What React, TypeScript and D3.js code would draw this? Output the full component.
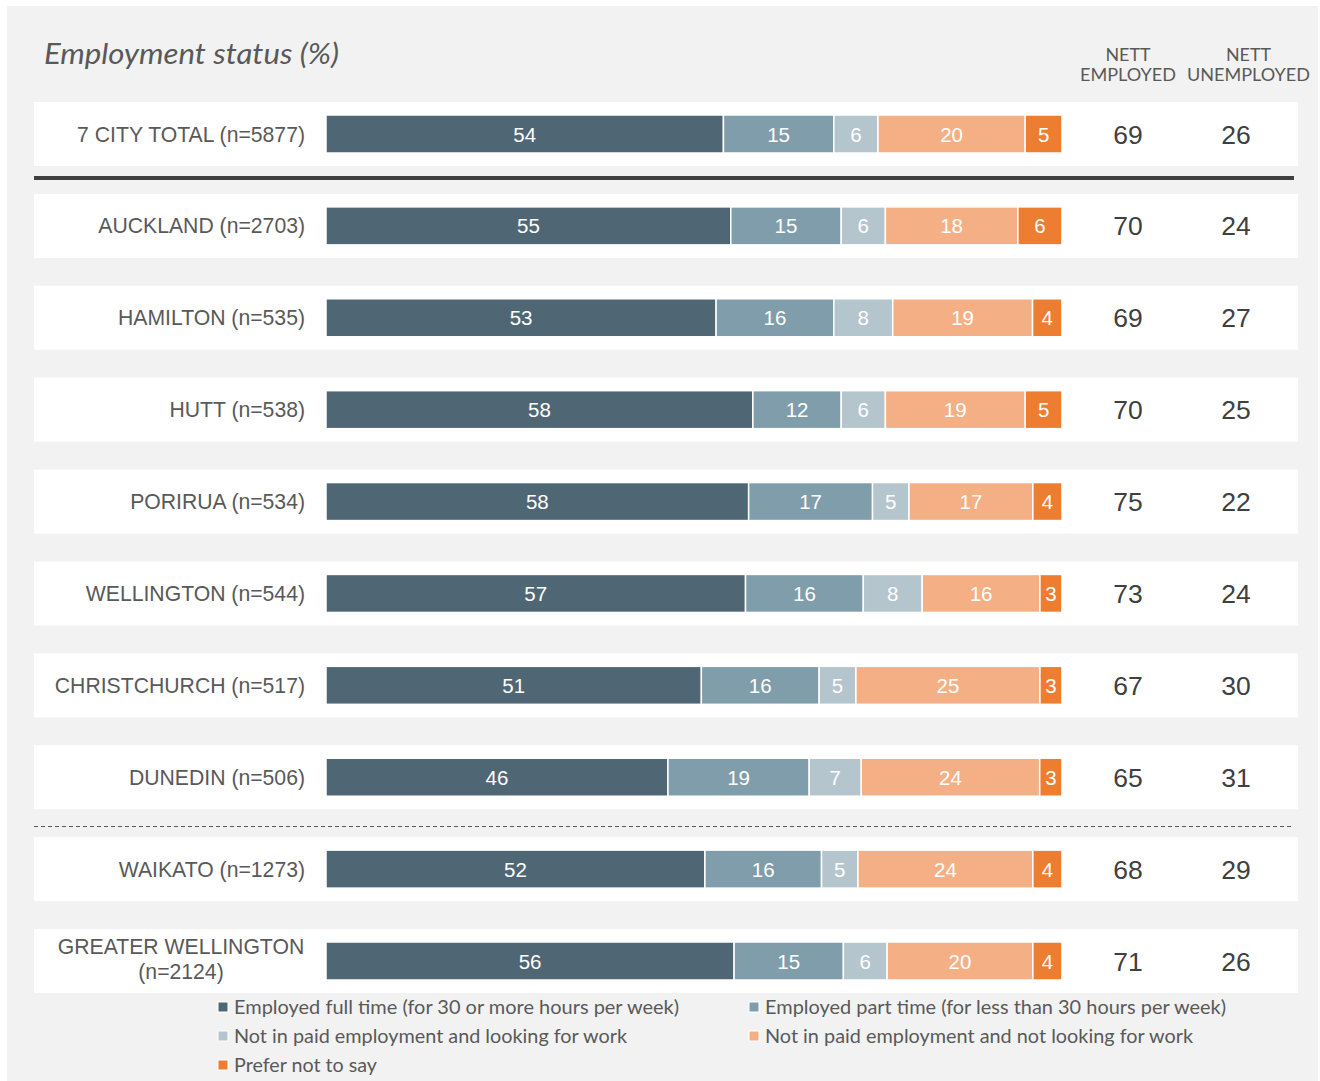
import React from "react";
import * as d3 from "d3";

const categories = [
  "7 CITY TOTAL (n=5877)",
  "AUCKLAND (n=2703)",
  "HAMILTON (n=535)",
  "HUTT (n=538)",
  "PORIRUA (n=534)",
  "WELLINGTON (n=544)",
  "CHRISTCHURCH (n=517)",
  "DUNEDIN (n=506)",
  "WAIKATO (n=1273)",
  "GREATER WELLINGTON (n=2124)",
];

const seriesNames = [
  "Employed full time (for 30 or more hours per week)",
  "Employed part time (for less than 30 hours per week)",
  "Not in paid employment and looking for work",
  "Not in paid employment and not looking for work",
  "Prefer not to say",
];

const fullTime = [54, 55, 53, 58, 58, 57, 51, 46, 52, 56];
const partTime = [15, 15, 16, 12, 17, 16, 16, 19, 16, 15];
const looking = [6, 6, 8, 6, 5, 8, 5, 7, 5, 6];
const notLooking = [20, 18, 19, 19, 17, 16, 25, 24, 24, 20];
const preferNot = [5, 6, 4, 5, 4, 3, 3, 3, 4, 4];

const nettEmployed = [69, 70, 69, 70, 75, 73, 67, 65, 68, 71];
const nettUnemployed = [26, 24, 27, 25, 22, 24, 30, 31, 29, 26];

const colors = ["#4f6774", "#809dab", "#b4c5ce", "#f4b084", "#ed7d31"];

const W = 1320;
const H = 1081;

export default function App() {
  const series = [fullTime, partTime, looking, notLooking, preferNot];
  const y = d3.scalePoint<string>().domain(categories).range([134, 961]);
  const barH = 38;
  const bandH = 64;
  const x0 = 326;
  const x1 = 1062;
  const labelFont = "'Liberation Sans', Arial, sans-serif";
  const calibri = "Lato, 'Open Sans', sans-serif";
  const legendWidths = [445, 461, 393, 428, 143];

  return (
    <svg
      width={W}
      height={H}
      style={{ position: "absolute", left: 0, top: 0 }}
      xmlns="http://www.w3.org/2000/svg"
    >
      <rect x={0} y={0} width={W} height={H} fill="#ffffff" />
      <rect x={7} y={6} width={1311} height={H - 6} fill="#f2f2f2" />
      <text
        x={44}
        y={64}
        fontFamily={calibri}
        fontStyle="italic"
        fontSize={29}
        fill="#595959"
        textLength={295}
        lengthAdjust="spacingAndGlyphs"
      >
        Employment status (%)
      </text>
      {[
        ["NETT", "EMPLOYED", 1128, 96],
        ["NETT", "UNEMPLOYED", 1248.5, 123],
      ].map(([a, b, cx, w]) => (
        <g key={String(b)} fontFamily={calibri} fontSize={16.5} fill="#595959" textAnchor="middle">
          <text x={cx as number} y={61} textLength={45} lengthAdjust="spacingAndGlyphs">{a}</text>
          <text x={cx as number} y={81} textLength={w as number} lengthAdjust="spacingAndGlyphs">{b}</text>
        </g>
      ))}

      {categories.map((cat, i) => {
        const cy = y(cat) as number;
        const vals = series.map((s) => s[i]);
        const total = d3.sum(vals);
        const xs = d3.scaleLinear().domain([0, total]).range([x0, x1]);
        const cum = d3.cumsum(vals);
        const multi = cat.startsWith("GREATER");
        return (
          <g key={cat}>
            <rect x={34} y={cy - bandH / 2} width={1264} height={bandH} fill="#ffffff" />
            {multi ? (
              <g fontFamily={labelFont} fontSize={21.2} fill="#595959" textAnchor="middle">
                <text x={181} y={cy - 7}>GREATER WELLINGTON</text>
                <text x={181} y={cy + 18}>(n=2124)</text>
              </g>
            ) : (
              <text
                x={305}
                y={cy + 7.5}
                fontFamily={labelFont}
                fontSize={21.2}
                fill="#595959"
                textAnchor="end"
              >
                {cat}
              </text>
            )}
            {vals.map((v, k) => {
              const a = xs(cum[k] - v);
              const b = xs(cum[k]);
              return (
                <g key={k}>
                  <rect
                    x={a}
                    y={cy - barH / 2}
                    width={b - a}
                    height={barH}
                    fill={colors[k]}
                    stroke="#ffffff"
                    strokeWidth={1.5}
                  />
                  <text
                    x={(a + b) / 2}
                    y={cy + 7.5}
                    fontFamily={labelFont}
                    fontSize={20.5}
                    fill="#ffffff"
                    textAnchor="middle"
                  >
                    {v}
                  </text>
                </g>
              );
            })}
            <text
              x={1128}
              y={cy + 9.5}
              fontFamily={labelFont}
              fontSize={26.5}
              fill="#404040"
              textAnchor="middle"
            >
              {nettEmployed[i]}
            </text>
            <text
              x={1236}
              y={cy + 9.5}
              fontFamily={labelFont}
              fontSize={26.5}
              fill="#404040"
              textAnchor="middle"
            >
              {nettUnemployed[i]}
            </text>
          </g>
        );
      })}

      <rect x={34} y={176} width={1260} height={4} fill="#404040" />
      <line
        x1={34}
        x2={1293}
        y1={826.5}
        y2={826.5}
        stroke="#595959"
        strokeWidth={1}
        strokeDasharray="4,3"
      />

      {seriesNames.map((name, k) => {
        const col = k % 2;
        const row = Math.floor(k / 2);
        const lx = col === 0 ? 218 : 749;
        const ly = 1007 + row * 29;
        return (
          <g key={name}>
            <rect x={lx} y={ly - 5} width={10} height={10} fill={colors[k]} stroke="#ffffff" strokeWidth={1} />
            <text
              x={lx + 16}
              y={ly + 7}
              fontFamily={calibri}
              fontSize={19}
              fill="#595959"
              textLength={legendWidths[k]}
              lengthAdjust="spacingAndGlyphs"
            >
              {name}
            </text>
          </g>
        );
      })}
    </svg>
  );
}
